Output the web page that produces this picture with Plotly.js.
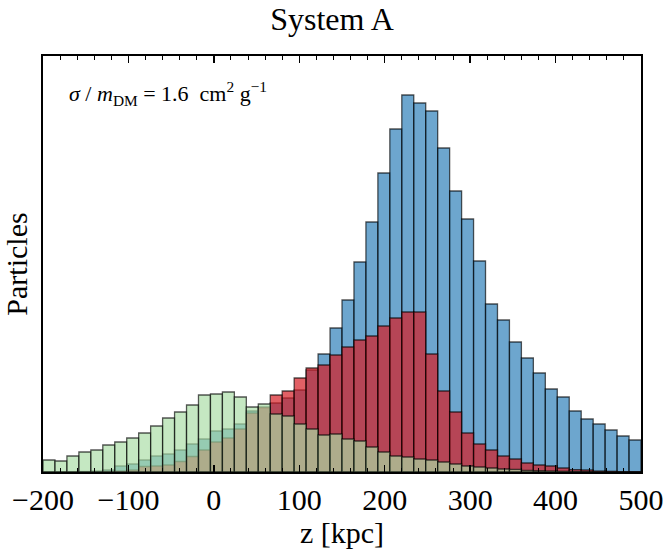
<!DOCTYPE html>
<html>
<head>
<meta charset="utf-8">
<script src="https://cdn.plot.ly/plotly-3.0.1.min.js"></script>
<style>
  body { margin: 0; background: #fff; }
  #chart { width: 664px; height: 556px; }
</style>
</head>
<body>
<div id="chart"></div>
<script>
// 50 bins of 14 kpc between -200 and 500
const binStart = -200;
const binWidth = 14;

// particle counts per bin (arbitrary units)
const blueCounts = [0, 0, 0, 0.5, 1, 2, 6, 8, 12, 16,
  18, 22, 28, 33, 41, 43, 48, 61, 64, 69,
  74, 82, 102, 118, 144, 172, 210, 250, 299, 343,
  377, 369, 361, 324, 281, 253, 211, 168, 152, 130,
  114, 99, 83, 75, 61, 53, 48, 42, 36, 32];

const redCounts = [0, 0, 0, 0, 0, 0.5, 1, 2, 5.5, 6,
  7, 10.5, 15.5, 22, 30, 34, 43, 59, 65, 77,
  81, 94, 104, 107, 117, 125, 132, 136, 146, 154,
  160, 160, 118, 81, 60, 39, 28, 22, 16, 13,
  9, 7, 6, 4, 2.3, 2, 1, 0.7, 0.3, 0.2];

const greenCounts = [12, 11, 16, 20, 22, 27, 30, 34, 39, 46,
  54, 60, 67, 77, 78, 80, 75, 65, 68, 58,
  56, 48, 43, 37, 38, 33, 31, 25, 20, 16,
  15, 13, 12, 10, 8, 6, 5, 4, 3, 2.7,
  1.7, 1.3, 1, 0.7, 0.5, 0.3, 0.2, 0.1, 0.1, 0];

const binCenters = blueCounts.map((v, i) => binStart + binWidth * (i + 0.5));

const edge = {color: 'rgba(0,0,0,0.65)', width: 1.3};

function histTrace(counts, fill) {
  return {
    type: 'bar',
    x: binCenters,
    y: counts,
    width: binWidth,
    marker: {color: fill, line: edge},
    hoverinfo: 'x+y'
  };
}

let data = [
  histTrace(blueCounts, 'rgba(31,119,180,0.65)'),
  histTrace(redCounts, 'rgba(214,28,36,0.7)'),
  histTrace(greenCounts, 'rgba(170,221,165,0.68)')
];

let layout = {
  width: 664,
  height: 556,
  margin: {l: 43, r: 23, t: 56, b: 84, pad: 0},
  paper_bgcolor: '#fff',
  plot_bgcolor: '#fff',
  barmode: 'overlay',
  showlegend: false,
  font: {family: 'Liberation Serif, Times New Roman, serif', color: '#000'},
  title: {
    text: 'System A',
    font: {size: 32, family: 'Liberation Serif, serif'},
    x: 0.5, xanchor: 'center',
    y: 0.967, yanchor: 'middle'
  },
  xaxis: {
    range: [-200, 500],
    dtick: 100,
    tick0: 0,
    ticks: 'inside',
    ticklen: 7,
    tickwidth: 1.3,
    tickcolor: '#000',
    minor: {dtick: 20, ticks: 'inside', ticklen: 4, tickwidth: 1, tickcolor: '#000'},
    showline: true,
    linecolor: '#000',
    linewidth: 1.6,
    mirror: 'allticks',
    showgrid: false,
    zeroline: false,
    tickfont: {size: 30},
    title: {text: 'z [kpc]', font: {size: 30}, standoff: 6}
  },
  yaxis: {
    range: [0, 416],
    showticklabels: false,
    ticks: '',
    showline: true,
    linecolor: '#000',
    linewidth: 1.6,
    mirror: true,
    showgrid: false,
    zeroline: false,
    title: {text: 'Particles', font: {size: 30}, standoff: 6}
  },
  annotations: [{
    xref: 'paper', yref: 'paper',
    x: 0.04, y: 0.91,
    xanchor: 'left', yanchor: 'middle',
    showarrow: false,
    text: '<i>σ</i> / <i>m</i><sub>DM</sub> = 1.6  cm<sup>2</sup> g<sup>−1</sup>',
    font: {size: 22}
  }]
};

Plotly.newPlot('chart', data, layout, {displayModeBar: false, staticPlot: true});
</script>
</body>
</html>
